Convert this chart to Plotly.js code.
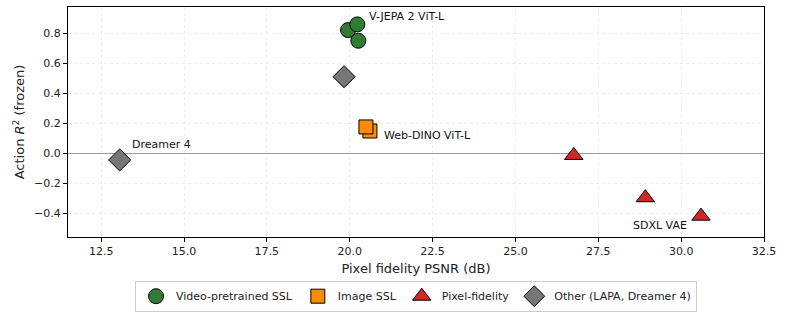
<!DOCTYPE html>
<html><head><meta charset="utf-8">
<script src="https://cdn.plot.ly/plotly-3.0.1.min.js"></script>
<style>body{margin:0;background:#fff}#c{width:785px;height:312px}</style>
</head><body><div id="c"></div>
<script>
const videoX = [19.95, 20.23, 20.26];
const videoY = [0.823, 0.861, 0.752];
const imageX = [20.61, 20.49];
const imageY = [0.150, 0.177];
const pixelX = [26.76, 28.92, 30.60];
const pixelY = [-0.013, -0.295, -0.418];
const otherX = [19.83, 13.06];
const otherY = [0.512, -0.043];
const seriesNames = ["Video-pretrained SSL", "Image SSL", "Pixel-fidelity", "Other (LAPA, Dreamer 4)"];
const labelText = ["V-JEPA 2 ViT-L", "Web-DINO ViT-L", "Dreamer 4", "SDXL VAE"];
const labelX = [20.53, 20.97, 13.38, 30.25];
const labelY = [0.917, 0.117, 0.057, -0.477];
const labelAnchor = ["left", "left", "left", "right"];
const xTicks = [12.5, 15.0, 17.5, 20.0, 22.5, 25.0, 27.5, 30.0, 32.5];
const yTicks = [-0.4, -0.2, 0.0, 0.2, 0.4, 0.6, 0.8];

const line = {color: "#000", width: 1};
const traces = [
  {x: videoX, y: videoY, name: seriesNames[0], mode: "markers", type: "scatter",
   marker: {symbol: "circle", size: 15, color: "#2e7d32", line: line}},
  {x: imageX, y: imageY, name: seriesNames[1], mode: "markers", type: "scatter",
   marker: {symbol: "square", size: 14, color: "#ff8c00", line: line}},
  {x: pixelX, y: pixelY, name: seriesNames[2], mode: "markers", type: "scatter",
   marker: {symbol: "triangle-up", size: 16, color: "#d62728", line: line}},
  {x: otherX, y: otherY, name: seriesNames[3], mode: "markers", type: "scatter",
   marker: {symbol: "diamond", size: 17, color: "#777777", line: line}}
];

const annotations = labelText.map((t, i) => ({
  x: labelX[i], y: labelY[i], xref: "x", yref: "y", text: t, showarrow: false,
  xanchor: labelAnchor[i], yanchor: "middle", font: {size: 11, color: "#111"}
}));

const gridStyle = {showgrid: true, gridcolor: "#ececec", griddash: "dot", gridwidth: 1};
const layout = {
  width: 785, height: 312,
  margin: {l: 68, r: 21, t: 7, b: 75, autoexpand: false},
  paper_bgcolor: "#fff", plot_bgcolor: "#fff",
  font: {family: "DejaVu Sans, sans-serif", size: 11, color: "#222"},
  showlegend: true,
  legend: {orientation: "h", x: 0.5, xanchor: "center", y: -0.19, yanchor: "top",
    bordercolor: "#cccccc", borderwidth: 1, font: {size: 11}, itemwidth: 30,
    tracegroupgap: 0},
  xaxis: Object.assign({
    range: [11.5, 32.5], tickvals: xTicks, ticktext: xTicks.map(v => v.toFixed(1)),
    ticks: "outside", ticklen: 4, tickcolor: "#000", tickfont: {size: 11},
    showline: true, linecolor: "#000", linewidth: 1, mirror: true, zeroline: false,
    title: {text: "Pixel fidelity PSNR (dB)", font: {size: 13}, standoff: 6},
    automargin: false
  }, gridStyle),
  yaxis: Object.assign({
    range: [-0.557, 0.977], tickvals: yTicks, ticktext: yTicks.map(v => v.toFixed(1).replace("-", "\u2212")),
    ticks: "outside", ticklen: 4, tickcolor: "#000", tickfont: {size: 11},
    showline: true, linecolor: "#000", linewidth: 1, mirror: true,
    zeroline: true, zerolinecolor: "#999999", zerolinewidth: 1.2,
    title: {text: "Action <i>R</i><sup>2</sup> (frozen)", font: {size: 13}, standoff: 6},
    automargin: false
  }, gridStyle),
  annotations: annotations
};
Plotly.newPlot("c", traces, layout, {displayModeBar: false, staticPlot: true});
</script></body></html>
